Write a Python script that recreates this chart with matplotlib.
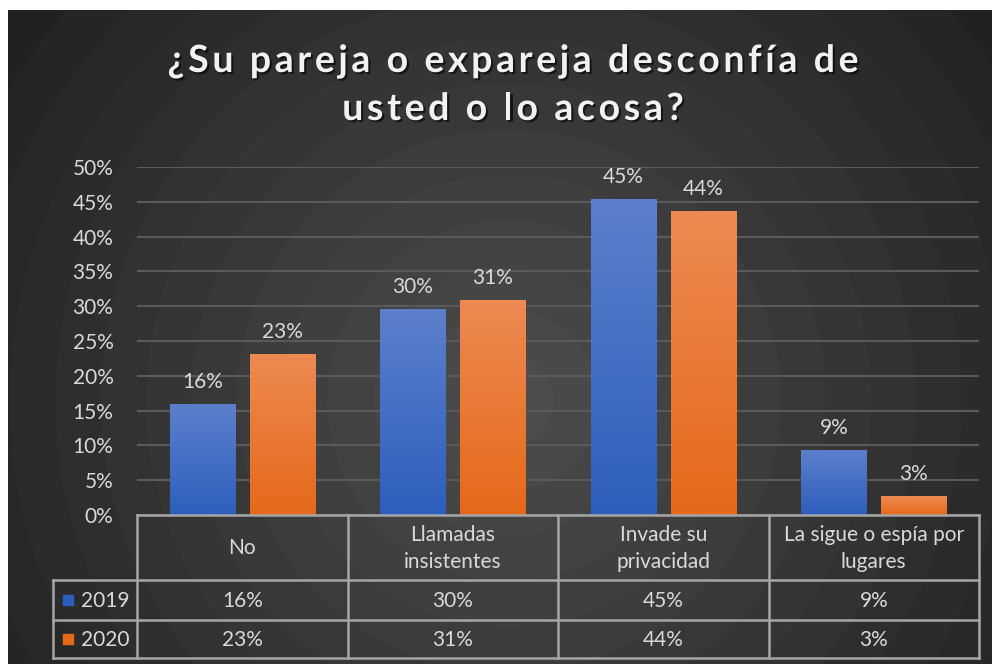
import numpy as np
import matplotlib.pyplot as plt
import matplotlib.patheffects as pe
from matplotlib.patches import Rectangle
from matplotlib.font_manager import FontProperties

plt.rcParams['font.family'] = ['Lato', 'DejaVu Sans']

title_lines = ["¿Su pareja o expareja desconfía de", "usted o lo acosa?"]
categories = ["No", "Llamadas\ninsistentes", "Invade su\nprivacidad", "La sigue o espía por\nlugares"]
series_names = ["2019", "2020"]
values_2019 = [15.9, 29.5, 45.3, 9.2]
values_2020 = [23.0, 30.8, 43.6, 2.7]
yticks = [0, 5, 10, 15, 20, 25, 30, 35, 40, 45, 50]

W, H = 992, 664
fig = plt.figure(figsize=(W / 100, H / 100), dpi=100)
fig.patch.set_facecolor("white")
txt = "#d9d9d9"

# fondo oscuro con degradado radial en bandas
bg = fig.add_axes([8 / W, 0, (W - 8) / W, (H - 10) / H])
yy, xx = np.mgrid[0:654, 0:984]
r = np.sqrt((xx - 500) ** 2 + (yy - 390) ** 2)
r = r / r.max()
r = np.floor(r * 14) / 14
shade = 0.30 - 0.18 * r
img = np.dstack([shade, shade, shade])
bg.imshow(img, aspect="auto", extent=[0, 1, 0, 1], interpolation="bilinear")
bg.axis("off")


def px(x0, y0, x1, y1):
    return [x0 / W, 1 - y1 / H, (x1 - x0) / W, (y1 - y0) / H]


ax = fig.add_axes(px(137, 167, 979, 515))
ax.set_facecolor("none")
ax.set_xlim(-0.5, 3.5)
ax.set_ylim(0, 50)
ax.set_yticks(yticks)
ax.set_yticklabels([f"{t}%" for t in yticks], color=txt, fontsize=15)
ax.tick_params(axis="y", length=0, pad=17)
ax.set_xticks([])
for s in ax.spines.values():
    s.set_visible(False)
ax.grid(axis="y", color="#5a5a5a", linewidth=1.5)
ax.set_axisbelow(True)


def grad_bar(x, h, w, top, bottom):
    grad = np.linspace(0, 1, 100).reshape(-1, 1)
    c0 = np.array(top)
    c1 = np.array(bottom)
    img = c1 + (c0 - c1) * grad
    img = img.reshape(100, 1, 3)
    ax.imshow(img, extent=[x - w / 2, x + w / 2, 0, h], origin="lower",
              aspect="auto", zorder=3)


blue_top = (0.36, 0.50, 0.80)
blue_bot = (0.18, 0.37, 0.74)
orange_top = (0.93, 0.54, 0.32)
orange_bot = (0.90, 0.41, 0.10)
bw = 0.31
off = 0.19
x = np.arange(len(categories))
for i in x:
    grad_bar(i - off, values_2019[i], bw, blue_top, blue_bot)
    grad_bar(i + off, values_2020[i], bw, orange_top, orange_bot)
    ax.annotate(f"{values_2019[i]:.0f}%", (i - off, values_2019[i]), xytext=(0, 9),
                textcoords="offset points", ha="center", va="bottom",
                color=txt, fontsize=15)
    ax.annotate(f"{values_2020[i]:.0f}%", (i + off, values_2020[i]), xytext=(0, 9),
                textcoords="offset points", ha="center", va="bottom",
                color=txt, fontsize=15)
ax.set_xlim(-0.5, 3.5)
ax.set_ylim(0, 50)

# tabla de datos
unit = (979 - 137) / 4
left_units = -0.5 - (137 - 53) / unit
tb = fig.add_axes(px(53, 515, 979, 659))
tb.set_xlim(left_units, 3.5)
tb.set_ylim(144, 0)
tb.axis("off")
lc = "#a6a6a6"
lw = 1.8
y_head, y_r1, y_r2, y_end = 0, 65, 105, 143
tb.plot([-0.5, 3.5], [y_head, y_head], color=lc, lw=lw, clip_on=False)
for yv in [y_r1, y_r2, y_end]:
    tb.plot([left_units, 3.5], [yv, yv], color=lc, lw=lw, clip_on=False)
tb.plot([left_units, left_units], [y_r1, y_end], color=lc, lw=lw, clip_on=False)
for xv in np.arange(-0.5, 3.6, 1.0):
    tb.plot([xv, xv], [y_head, y_end], color=lc, lw=lw, clip_on=False)
for i, c in enumerate(categories):
    tb.text(i, (y_head + y_r1) / 2 + 1, c, ha="center", va="center",
            color=txt, fontsize=15, linespacing=1.45)
    tb.text(i, (y_r1 + y_r2) / 2 + 1, f"{values_2019[i]:.0f}%", ha="center",
            va="center", color=txt, fontsize=15)
    tb.text(i, (y_r2 + y_end) / 2 + 1, f"{values_2020[i]:.0f}%", ha="center",
            va="center", color=txt, fontsize=15)
for name, col, (ya, yb) in zip(series_names, [blue_bot, orange_bot],
                               [(y_r1, y_r2), (y_r2, y_end)]):
    ym = (ya + yb) / 2
    sq = 10 / unit
    tb.add_patch(Rectangle((left_units + 10 / unit, ym - 5), sq, 10,
                           color=col, clip_on=False))
    tb.text(left_units + 28 / unit, ym + 1, name, ha="left", va="center",
            color=txt, fontsize=15)

# título con espaciado entre letras
renderer = fig.canvas.get_renderer()
fp = FontProperties(family="Lato", weight="bold", size=27)
spacing = 3.6
shadow = [pe.SimplePatchShadow(offset=(1.5, -1.5), shadow_rgbFace="black", alpha=0.6),
          pe.Normal()]


def tw(s):
    return renderer.get_text_width_height_descent(s, fp, ismath=False)[0]


for line, base in zip(title_lines, [72, 120]):
    bar_w = tw("|")
    total = tw(line) + spacing * (len(line) - 1)
    x0 = 513 - total / 2
    for k, ch in enumerate(line):
        if ch == " ":
            continue
        xk = x0 + tw(line[:k] + "|") - bar_w + spacing * k
        fig.text(xk / W, 1 - base / H, ch, fontproperties=fp, color="#f2f2f2",
                 ha="left", va="baseline", path_effects=shadow)

fig.savefig("out.png", dpi=100, facecolor=fig.get_facecolor())
